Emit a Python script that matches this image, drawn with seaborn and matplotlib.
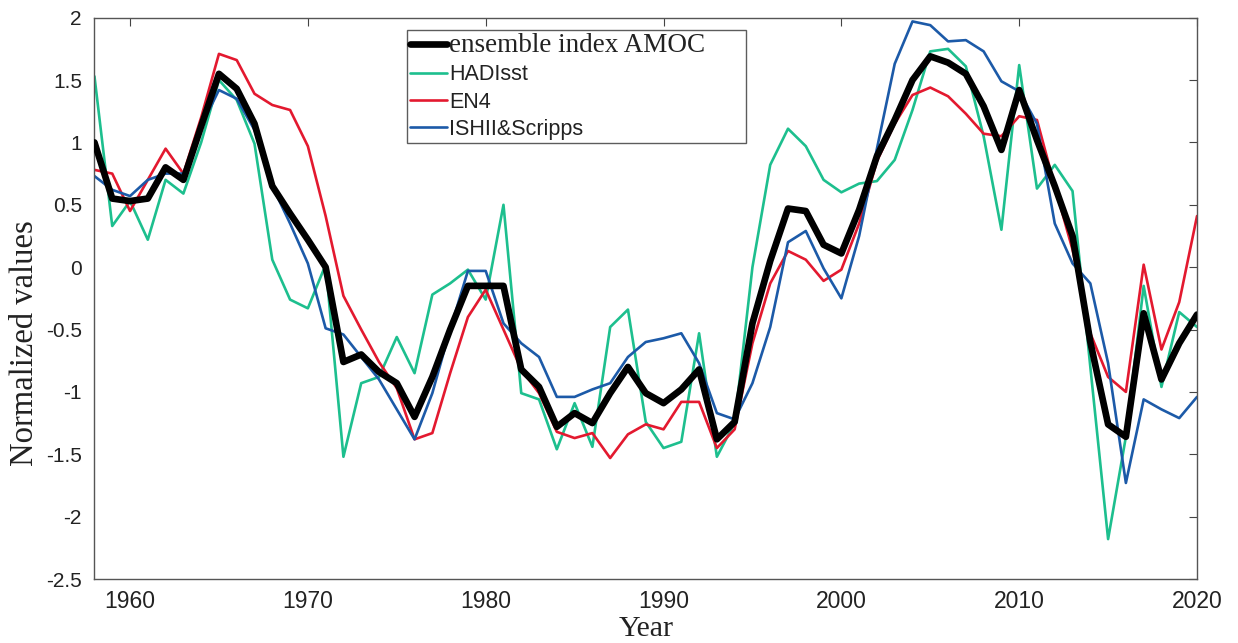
import numpy as np
import pandas as pd
import seaborn as sns
import matplotlib.pyplot as plt
from matplotlib.ticker import MultipleLocator

years = list(range(1958, 2021))

ensemble = [1.0, 0.55, 0.53, 0.55, 0.8, 0.70, 1.13, 1.55, 1.43, 1.15,
            0.65, 0.43, 0.22, 0.0, -0.76, -0.70, -0.84, -0.93, -1.2, -0.88,
            -0.5, -0.15, -0.15, -0.15, -0.82, -0.96, -1.28, -1.17, -1.25, -1.01,
            -0.80, -1.01, -1.09, -0.98, -0.82, -1.38, -1.24, -0.45, 0.05, 0.47,
            0.45, 0.18, 0.11, 0.46, 0.89, 1.18, 1.5, 1.69, 1.64, 1.55,
            1.29, 0.94, 1.42, 1.02, 0.65, 0.25, -0.6, -1.26, -1.36, -0.37,
            -0.90, -0.61, -0.38]

hadisst = [1.53, 0.33, 0.53, 0.22, 0.70, 0.59, 1.0, 1.50, 1.34, 0.99,
           0.06, -0.26, -0.33, 0.02, -1.52, -0.93, -0.88, -0.56, -0.85, -0.22,
           -0.13, -0.02, -0.26, 0.50, -1.01, -1.06, -1.46, -1.09, -1.44, -0.48,
           -0.34, -1.24, -1.45, -1.40, -0.53, -1.52, -1.25, 0.0, 0.82, 1.11,
           0.97, 0.70, 0.60, 0.67, 0.69, 0.86, 1.26, 1.73, 1.75, 1.61,
           1.05, 0.30, 1.62, 0.63, 0.82, 0.61, -0.8, -2.18, -1.36, -0.15,
           -0.96, -0.36, -0.48]

en4 = [0.78, 0.75, 0.45, 0.70, 0.95, 0.75, 1.2, 1.71, 1.66, 1.39,
       1.30, 1.26, 0.97, 0.41, -0.23, -0.5, -0.76, -0.97, -1.38, -1.33,
       -0.85, -0.4, -0.18, -0.5, -0.82, -1.01, -1.32, -1.37, -1.33, -1.53,
       -1.34, -1.26, -1.30, -1.08, -1.08, -1.45, -1.30, -0.61, -0.13, 0.13,
       0.06, -0.11, -0.02, 0.35, 0.85, 1.15, 1.38, 1.44, 1.37, 1.23,
       1.07, 1.05, 1.21, 1.18, 0.65, 0.14, -0.53, -0.88, -1.0, 0.02,
       -0.66, -0.28, 0.41]

ishii = [0.73, 0.62, 0.57, 0.70, 0.75, 0.75, 1.13, 1.42, 1.35, 1.1,
         0.65, 0.35, 0.03, -0.49, -0.54, -0.72, -0.90, -1.14, -1.38, -1.01,
         -0.5, -0.03, -0.03, -0.45, -0.61, -0.72, -1.04, -1.04, -0.98, -0.93,
         -0.72, -0.6, -0.57, -0.53, -0.77, -1.17, -1.22, -0.93, -0.48, 0.2,
         0.29, -0.01, -0.25, 0.25, 0.95, 1.63, 1.97, 1.94, 1.81, 1.82,
         1.73, 1.49, 1.41, 1.15, 0.35, 0.03, -0.13, -0.77, -1.73, -1.06,
         -1.14, -1.21, -1.04]

series = [
    ("ensemble index AMOC", ensemble, "black", 4.8),
    ("HADIsst", hadisst, "#1dbf8e", 1.9),
    ("EN4", en4, "#e3192f", 1.9),
    ("ISHII&Scripps", ishii, "#1c5aa8", 1.9),
]

serif = ['Liberation Serif', 'DejaVu Serif']

sns.set_theme(style="white")
plt.rcParams['font.family'] = ['Liberation Sans', 'DejaVu Sans']

fig = plt.figure(figsize=(12.38, 6.43), dpi=100)
ax = fig.add_axes([0.0763, 0.0995, 0.8906, 0.873])

# thin lines first, ensemble drawn on top
for i in [1, 2, 3, 0]:
    name, vals, col, lw = series[i]
    df = pd.DataFrame({"Year": years, "value": vals})
    sns.lineplot(data=df, x="Year", y="value", color=col, linewidth=lw,
                 label=name, ax=ax, zorder=3 if i == 0 else 2)

ax.set_xlim(1958, 2020)
ax.set_ylim(-2.5, 2)
ax.xaxis.set_major_locator(MultipleLocator(10))
ax.yaxis.set_major_locator(MultipleLocator(0.5))
ax.yaxis.set_major_formatter(plt.FuncFormatter(lambda v, p: '%g' % v))

ax.tick_params(direction='in', length=6, width=0.8, top=True, right=True,
               colors='#444444', labelcolor='#222222')
ax.tick_params(axis='x', labelsize=16.5, pad=8)
ax.tick_params(axis='y', labelsize=15, pad=9)

for sp in ax.spines.values():
    sp.set_color('#555555')
    sp.set_linewidth(1.0)

ax.set_xlabel('Year', fontsize=21.5, family=serif, color='#222222')
ax.xaxis.label.set_va('baseline')
ax.xaxis.set_label_coords(0.5, -0.101)
ax.set_ylabel('Normalized values', fontsize=23.5, family=serif, color='#222222')
ax.yaxis.set_label_coords(-0.049, 0.42)

handles, labels = ax.get_legend_handles_labels()
hmap = dict(zip(labels, handles))
names = [s[0] for s in series]
leg = ax.legend([hmap[n] for n in names], names, loc='upper left',
                bbox_to_anchor=(0.2835, 0.978, 0.3075, 0), mode='expand',
                frameon=True, fancybox=False, edgecolor='#333333',
                fontsize=15.5, handlelength=1.75, handletextpad=0.1,
                borderpad=0.12, labelspacing=0.3, borderaxespad=0)
leg.get_frame().set_linewidth(1.0)
txts = leg.get_texts()
txts[0].set_fontfamily(serif)
txts[0].set_fontsize(19.5)
for t in txts:
    t.set_color('#222222')

fig.savefig('out.png', dpi=100)
